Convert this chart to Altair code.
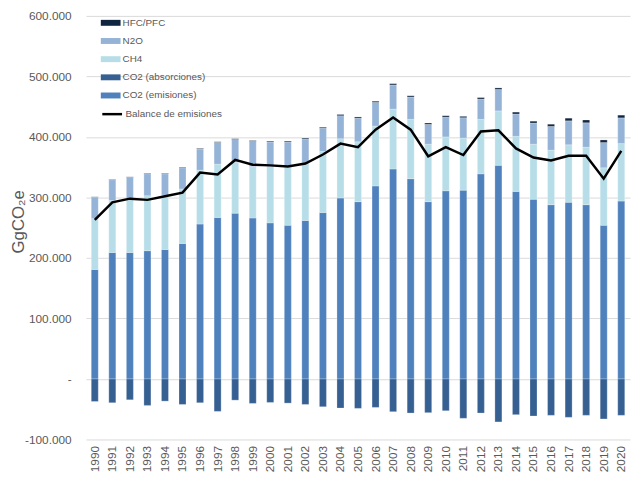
import altair as alt
import pandas as pd

years = [str(y) for y in range(1990, 2021)]

# values in thousands of GgCO2e
co2_emisiones = [181, 209, 209, 212, 214, 224, 256, 267, 274, 266, 258, 254, 262, 275, 299, 293,
                 319, 347, 331, 293, 311, 312, 339, 353, 310, 297, 288, 292, 288, 254, 294]
ch4 = [84, 86, 87, 91, 90, 90, 89, 88, 84, 85, 93, 96, 95, 101, 98, 99,
       99, 99, 98, 95, 89, 86, 90, 90, 91, 91, 90, 95, 95, 95, 95]
n2o = [35.4, 34.4, 37.3, 36.3, 35.2, 35.1, 35.0, 36.0, 37.8, 41.7, 40.7, 41.5, 39.4, 38.5, 38.2, 39.1,
       39.1, 39.9, 37.0, 32.8, 32.7, 33.8, 33.6, 35.5, 36.9, 35.0, 39.4, 39.6, 40.4, 41.7, 42.5]
hfc_pfc = [0.6, 0.6, 0.7, 0.7, 0.8, 0.9, 1.0, 1.0, 1.2, 1.3, 1.3, 1.5, 1.6, 1.5, 1.8, 1.9,
           1.9, 2.1, 2.0, 2.2, 2.3, 2.2, 2.4, 2.5, 3.1, 3.0, 3.6, 4.4, 4.6, 4.3, 4.5]
co2_absorciones = [-37.2, -39.3, -34.4, -43.7, -36.6, -42.1, -39.3, -53.6, -35.0, -40.4, -38.8, -39.9,
                   -42.1, -45.9, -48.1, -48.6, -47.0, -54.1, -56.3, -55.7, -52.5, -65.0, -56.3, -71.0,
                   -59.0, -61.2, -60.1, -63.4, -60.1, -66.1, -60.1]
balance = [263, 292, 298, 296, 302, 308, 341, 338, 362, 354, 353, 351, 356, 371, 389, 383,
           412, 432, 412, 368, 383, 370, 409, 411, 381, 366, 361, 369, 369, 331, 377]

series_names = ["HFC/PFC", "N2O", "CH4", "CO2 (absorciones)", "CO2 (emisiones)"]
series_colors = ["#10253F", "#95B3D7", "#B7DEE8", "#376092", "#4F81BD"]
y_ticks = [-100000, 0, 100000, 200000, 300000, 400000, 500000, 600000]

stack_order = {"CO2 (emisiones)": 1, "CH4": 2, "N2O": 3, "HFC/PFC": 4, "CO2 (absorciones)": 5}
source = {"CO2 (emisiones)": co2_emisiones, "CH4": ch4, "N2O": n2o,
          "HFC/PFC": hfc_pfc, "CO2 (absorciones)": co2_absorciones}

rows = []
for name, vals in source.items():
    for y, v in zip(years, vals):
        rows.append({"year": y, "serie": name, "value": v * 1000, "orden": stack_order[name]})
bars_df = pd.DataFrame(rows)
line_df = pd.DataFrame({"year": years, "value": [b * 1000 for b in balance],
                        "serie": "Balance de emisiones"})

FONT = "Liberation Sans"
GRAY = "#595959"

x_enc = alt.X("year:N", sort=years,
              scale=alt.Scale(paddingInner=0.6, paddingOuter=0.3),
              axis=alt.Axis(title=None, labelAngle=-90, labelFontSize=12, labelColor=GRAY,
                            labelFont=FONT, domain=False, ticks=False, grid=False, labelPadding=6))

y_scale = alt.Scale(domain=[-100000, 600000], nice=False, zero=False)

label_expr = ("datum.value == 0 ? '-\u00a0\u00a0' : (datum.value < 0 ? '-' : '') + "
              "replace(format(abs(datum.value), ','), regexp(',', 'g'), '.')")

bars = alt.Chart(bars_df).mark_bar(stroke="white", strokeWidth=0.5, strokeOpacity=0.5).encode(
    x=x_enc,
    y=alt.Y("value:Q", scale=y_scale, stack="zero",
            axis=alt.Axis(title="GgCO₂e", values=y_ticks, labelExpr=label_expr,
                          labelFontSize=12, labelColor=GRAY, labelFont=FONT,
                          domain=False, ticks=False, grid=True, gridColor="#D9D9D9",
                          labelPadding=15, titleFont=FONT, titleFontSize=17,
                          titleFontWeight="normal", titleColor=GRAY, titleAngle=-90,
                          titleX=-68, titleY=208, titleAlign="center",
                          titleBaseline="middle")),
    color=alt.Color("serie:N",
                    scale=alt.Scale(domain=series_names, range=series_colors),
                    legend=alt.Legend(title=None, orient="none", legendX=15, legendY=-3,
                                      symbolType="M-1,-0.3L1,-0.3L1,0.3L-1,0.3Z",
                                      symbolSize=400, symbolStrokeWidth=0,
                                      labelFont=FONT, labelFontSize=10, labelColor=GRAY,
                                      labelOffset=2, rowPadding=3.4, padding=0)),
    order=alt.Order("orden:Q", sort="ascending"),
)

line = alt.Chart(line_df).mark_line(strokeWidth=2.5).encode(
    x=alt.X("year:N", sort=years),
    y=alt.Y("value:Q", scale=y_scale),
    stroke=alt.Stroke("serie:N",
                      scale=alt.Scale(domain=["Balance de emisiones"], range=["#000000"]),
                      legend=alt.Legend(title=None, orient="none", legendX=15, legendY=88,
                                        symbolType="stroke", symbolSize=400,
                                        symbolStrokeWidth=2.5,
                                        labelFont=FONT, labelFontSize=10, labelColor=GRAY,
                                        labelOffset=2, padding=0)),
)

chart = alt.layer(bars, line).resolve_scale(color="independent").properties(
    width=551, height=429,
    autosize=alt.AutoSizeParams(type="none"),
    padding={"left": 79, "top": 5, "right": 2, "bottom": 36},
).configure_view(stroke=None)

chart.save("out.html", embed_options={"renderer": "svg", "actions": False})
